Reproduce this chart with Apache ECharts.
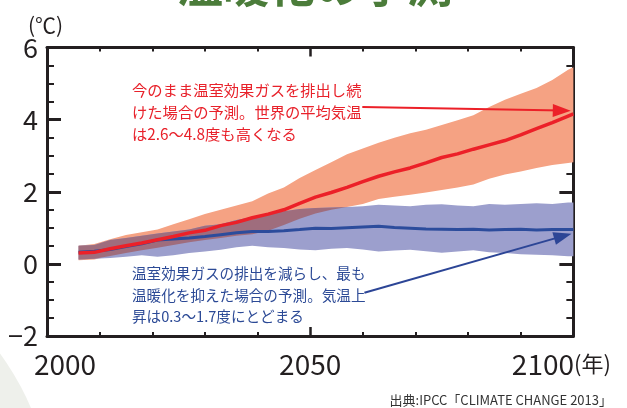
<!DOCTYPE html>
<html><head><meta charset="utf-8">
<script src="https://cdn.jsdelivr.net/npm/echarts@6/dist/echarts.min.js"></script>
<style>html,body{margin:0;padding:0;background:#fff}#c{width:627px;height:408px}</style>
</head><body><div id="c"></div>
<script>
const years = [2006,2009,2012,2015,2018,2021,2024,2027,2030,2033,2036,2039,2042,2045,2048,2051,2054,2057,2060,2063,2066,2069,2072,2075,2078,2081,2084,2087,2090,2093,2096,2099,2100];
const redMean  = [0.30,0.32,0.42,0.50,0.58,0.67,0.76,0.86,0.93,1.06,1.15,1.28,1.38,1.50,1.68,1.85,1.98,2.12,2.28,2.43,2.55,2.66,2.80,2.95,3.05,3.18,3.30,3.42,3.58,3.75,3.92,4.10,4.16];
const redUpper = [0.50,0.55,0.68,0.80,0.88,0.95,1.10,1.24,1.38,1.50,1.62,1.74,1.95,2.12,2.38,2.60,2.82,3.04,3.20,3.36,3.50,3.62,3.72,3.85,3.98,4.12,4.35,4.55,4.72,4.88,5.10,5.38,5.45];
const redLower = [0.10,0.12,0.22,0.30,0.38,0.45,0.52,0.60,0.66,0.72,0.78,0.82,0.92,1.08,1.25,1.40,1.50,1.58,1.66,1.80,1.86,1.92,1.98,2.05,2.12,2.20,2.36,2.48,2.56,2.66,2.74,2.80,2.82];
const blueMean  = [0.32,0.35,0.40,0.48,0.56,0.66,0.69,0.72,0.76,0.81,0.86,0.90,0.90,0.92,0.95,0.99,0.98,1.00,1.02,1.04,1.01,0.99,0.97,0.96,0.95,0.96,0.94,0.95,0.96,0.94,0.95,0.95,0.95];
const blueUpper = [0.50,0.52,0.66,0.72,0.78,0.84,0.90,0.95,1.06,1.10,1.22,1.30,1.40,1.46,1.52,1.55,1.56,1.58,1.60,1.64,1.62,1.60,1.64,1.65,1.62,1.60,1.66,1.64,1.66,1.68,1.66,1.70,1.70];
const blueLower = [0.12,0.14,0.16,0.20,0.24,0.20,0.24,0.30,0.34,0.39,0.46,0.50,0.46,0.44,0.40,0.38,0.42,0.44,0.40,0.34,0.37,0.39,0.35,0.31,0.34,0.38,0.32,0.30,0.27,0.25,0.24,0.21,0.21];
const xTicks = [2000, 2050, 2100];
const redNote = ['今のまま温室効果ガスを排出し続','けた場合の予測。世界の平均気温','は2.6～4.8度も高くなる'];
const blueNote = ['温室効果ガスの排出を減らし、最も','温暖化を抑えた場合の予測。気温上','昇は0.3～1.7度にとどまる'];
// arrow annotations in data units [year, ℃]
const redArrow = [[2059.9, 4.35], [2097.8, 4.25]];
const blueArrow = [[2060.3, -0.80], [2098.0, 0.77]];

const FONT = '"Noto Sans CJK JP", "Noto Sans", sans-serif';
const AX = '#231f20';
const pair = (arr) => years.map((y, i) => [y, arr[i]]);
const ovLow = years.map((y, i) => Math.max(redLower[i], blueLower[i]));
const ovHigh = years.map((y, i) => Math.max(ovLow[i], Math.min(redUpper[i], blueUpper[i])));

function band(name, low, high, color) {
  return {
    name: name, type: 'custom', silent: true, clip: true,
    data: years.map((y, i) => [y, high[i], low[i]]),
    encode: {x: 0, y: [1, 2]},
    renderItem: function (params, api) {
      if (params.dataIndex !== 0) return null;
      const pts = [];
      for (let i = 0; i < years.length; i++) pts.push(api.coord([years[i], high[i]]));
      for (let i = years.length - 1; i >= 0; i--) pts.push(api.coord([years[i], low[i]]));
      return {type: 'polygon', shape: {points: pts}, style: {fill: color, stroke: null}};
    }
  };
}
function xAx(pos) {
  return {
    type: 'value', min: 2000, max: 2100, interval: 50, position: pos,
    axisLine: {show: true, onZero: false, lineStyle: {color: AX, width: 3}},
    axisTick: {show: true, inside: true, length: 9, lineStyle: {color: AX, width: 2.5}},
    minorTick: {show: true, splitNumber: 5, length: 4, lineStyle: {color: AX, width: 2}},
    splitLine: {show: false},
    axisLabel: pos === 'bottom' ? {
      show: true, margin: 14, color: AX, fontFamily: FONT,
      formatter: function (v) {
        if (v === xTicks[0]) return '{sp| }{n|' + v + '}';
        if (v === xTicks[2]) return '{n|' + v + '}{u|(年)}{sp2| }';
        if (v === xTicks[1]) return '{n|' + v + '}';
        return '';
      },
      rich: {
        n: {fontSize: 28, fontFamily: FONT, color: AX},
        u: {fontSize: 22, fontFamily: FONT, color: AX},
        sp: {width: 36, fontSize: 10},
        sp2: {width: 24, fontSize: 10}
      }
    } : {show: false}
  };
}
function yAx(pos) {
  return {
    type: 'value', min: -2, max: 6, interval: 2, position: pos,
    axisLine: {show: true, onZero: false, lineStyle: {color: AX, width: 3}},
    axisTick: {show: true, inside: true, length: 14, lineStyle: {color: AX, width: 3}},
    minorTick: {show: true, splitNumber: 4, length: 7, lineStyle: {color: AX, width: 2}},
    splitLine: {show: false},
    axisLabel: pos === 'left' ? {show: true, margin: 9, fontSize: 27, color: AX, fontFamily: FONT,
      formatter: v => String(v).replace('-', '−')} : {show: false}
  };
}
function arrow(pts, color) {
  return {
    silent: true, symbol: ['none', 'triangle'], symbolSize: [13, 18],
    label: {show: false}, emphasis: {disabled: true},
    lineStyle: {color: color, width: 2, type: 'solid'},
    data: [[{coord: pts[0]}, {coord: pts[1]}]]
  };
}

const chart = echarts.init(document.getElementById('c'), null, {renderer: 'canvas'});
chart.setOption({
  animation: false,
  backgroundColor: '#ffffff',
  grid: {left: 47, right: 44, top: 47.5, bottom: 72, containLabel: false},
  xAxis: [xAx('bottom'), xAx('top')],
  yAxis: [yAx('left'), yAx('right')],
  graphic: [
    {type: 'circle', shape: {cx: -230, cy: 520, r: 284}, style: {fill: '#eef0eb'}, z: -10, silent: true},
    {type: 'text', x: 315, y: -15, style: {text: '温暖化の予測', font: 'bold 46px ' + FONT, fill: '#4b7c3a', textAlign: 'center', textVerticalAlign: 'middle'}, silent: true},
    {type: 'text', x: 28, y: 25, style: {text: '(℃)', font: '21px ' + FONT, fill: AX, textAlign: 'left', textVerticalAlign: 'middle'}, silent: true},
    {type: 'text', x: 612, y: 400, style: {text: '出典:IPCC「CLIMATE CHANGE 2013」', font: '13px ' + FONT, fill: '#333333', textAlign: 'right', textVerticalAlign: 'middle'}, silent: true},
    {type: 'text', x: 132, y: 79, z: 100, style: {text: redNote.join('\n'), font: '15.3px ' + FONT, lineHeight: 22, fill: '#e8212a', textAlign: 'left', textVerticalAlign: 'top'}, silent: true},
    {type: 'text', x: 132, y: 263, z: 100, style: {text: blueNote.join('\n'), font: '14.6px ' + FONT, lineHeight: 21.5, fill: '#2c4a96', textAlign: 'left', textVerticalAlign: 'top'}, silent: true}
  ],
  series: [
    band('redBand', redLower, redUpper, '#f5a283'),
    band('blueBand', blueLower, blueUpper, '#9c9fcd'),
    band('overlap', ovLow, ovHigh, '#9f6d7d'),
    {name: 'blue', type: 'line', data: pair(blueMean), symbol: 'none', lineStyle: {color: '#2c4c9c', width: 3}, silent: true, markLine: arrow(blueArrow, '#2c4596')},
    {name: 'red', type: 'line', data: pair(redMean), symbol: 'none', lineStyle: {color: '#ec2028', width: 3.5}, silent: true, markLine: arrow(redArrow, '#ec2028')}
  ]
});
</script>
</body></html>
